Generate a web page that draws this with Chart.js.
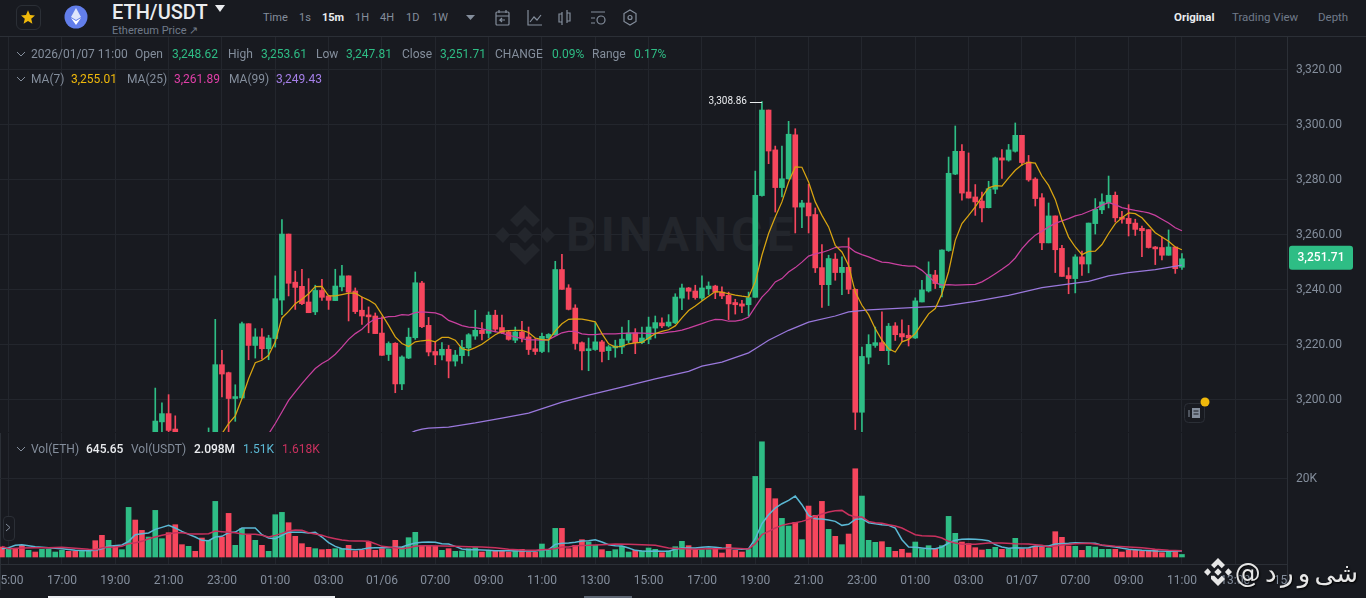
<!DOCTYPE html>
<html>
<head>
<meta charset="utf-8">
<title>ETH/USDT</title>
<script src="https://cdn.jsdelivr.net/npm/chart.js@4/dist/chart.umd.js"></script>
<style>
html, body { margin: 0; padding: 0; width: 1366px; height: 598px; overflow: hidden; background: #181a20; font-family: Roboto, sans-serif; color: #848e9c; }
#priceChart, #volChart { position: absolute; left: 0; }
#priceChart { top: 37px; }
#volChart { top: 433px; }
.t { position: absolute; white-space: nowrap; font-size: 12px; line-height: 14px; }
.line { position: absolute; background: #2b2f36; }
svg { position: absolute; }
</style>
</head>
<body>
<div class="line" style="left:0;top:36px;width:1366px;height:1px"></div>
<div class="line" style="left:0;top:433px;width:1px;height:157px"></div>

<!-- watermark sits behind the canvases -->
<svg style="left:495px;top:205px" width="60" height="60" viewBox="0 0 60 60" fill="#23262c">
  <path d="M30 0 45 15 38 22 30 14 22 22 15 15Z M8 22 15 30 8 38 0 30Z M52 22 60 30 52 38 45 30Z M30 22 38 30 30 38 22 30Z M15 38 22 38 30 46 38 38 45 45 30 60 15 45Z"/>
</svg>
<div class="t" style="left:566px;top:211px;font-size:48px;line-height:48px;font-weight:700;color:#23262c;letter-spacing:4px">BINANCE</div>

<canvas id="priceChart" width="1366" height="395"></canvas>
<canvas id="volChart" width="1366" height="165"></canvas>

<!-- header -->
<div style="position:absolute;left:16px;top:5px;width:23px;height:23px;border:1px solid #2b2f36;border-radius:6px"></div>
<svg style="left:20px;top:9px" width="16" height="16" viewBox="0 0 24 24"><path fill="#f0b90b" d="M12 2l3 7 7.5.6-5.7 4.9 1.8 7.5L12 18l-6.6 4 1.8-7.5L1.5 9.600 9 9z"/></svg>
<svg style="left:64px;top:5px" width="24" height="24" viewBox="0 0 24 24"><circle cx="12" cy="12" r="11.500" fill="#627eea"/><path fill="#dfe5fb" d="M12 3l5 9-5 3-5-3z"/><path fill="#fff" d="M12 16l5-3-5 7-5-7z"/></svg>
<svg style="left:215px;top:5px" width="10" height="7" viewBox="0 0 10 7"><path fill="#eaecef" d="M0 0h10L5 7z"/></svg>
<svg style="left:466px;top:15px" width="9" height="5" viewBox="0 0 9 5"><path fill="#848e9c" d="M0 0h9L4.500 5z"/></svg>
<svg style="left:495px;top:9px" width="150" height="18" fill="none" stroke="#848e9c" stroke-width="1.200">
  <rect x="1" y="3" width="13" height="13" rx="1"/><path d="M1 7h13M4 1v3M11 1v3M10 11H5l2-2M5 11l2 2"/>
  <path d="M33 1v15h14M35 13l4-5 3 3 4-5"/>
  <path d="M67 3v13M67 5h-3v8h3M72 1v13M72 4h3v8h-3"/>
  <path d="M96 3h14M96 9h4M96 14h4"/><circle cx="106" cy="11" r="4"/>
  <path d="M135 1l6 3.500v8L135 16l-6-3.500v-8z"/><circle cx="135" cy="8.500" r="2"/>
</svg>
<svg style="left:1184px;top:403px" width="22" height="20" fill="none" stroke="#848e9c"><rect x="0.500" y="0.500" width="20" height="19" rx="4" stroke="#2b2f36"/><rect x="8" y="5" width="8" height="10" fill="#848e9c" stroke="none"/><path d="M5 7v7"/><path d="M9.500 8h5M9.500 11h5" stroke="#181a20"/></svg>
<svg style="left:1200px;top:397px" width="10" height="10"><circle cx="5" cy="5" r="4.500" fill="#f0b90b"/></svg>
<div style="position:absolute;left:3px;top:516px;width:10px;height:23px;border:1px solid #2b2f36;border-radius:4px;background:#181a20"></div>
<svg style="left:5px;top:523px" width="7" height="9" fill="none" stroke="#848e9c"><path d="M1 1l4 3.500L1 8"/></svg>

<!-- row chevrons -->
<svg style="left:16px;top:51px" width="10" height="6" fill="none" stroke="#848e9c"><path d="M1 1l4 4 4-4"/></svg>
<svg style="left:16px;top:76px" width="10" height="6" fill="none" stroke="#848e9c"><path d="M1 1l4 4 4-4"/></svg>
<svg style="left:16px;top:446px" width="10" height="6" fill="none" stroke="#848e9c"><path d="M1 1l4 4 4-4"/></svg>

<div style="position:absolute;left:48px;top:596px;width:287px;height:2px;background:#eaecef"></div>
<div style="position:absolute;left:584px;top:596px;width:48px;height:2px;background:#5e6673"></div>
<div class="line" style="left:1287px;top:564px;width:1px;height:21px"></div>

<!-- bottom right credit -->
<svg style="left:1204px;top:558px" width="28" height="28" viewBox="0 0 60 60" fill="#e6e6e6">
  <path d="M30 0 45 15 38 22 30 14 22 22 15 15Z M8 22 15 30 8 38 0 30Z M52 22 60 30 52 38 45 30Z M30 22 38 30 30 38 22 30Z M15 38 22 38 30 46 38 38 45 45 30 60 15 45Z"/>
</svg>
<div class="t" dir="rtl" style="right:8px;top:556px;font-family:'DejaVu Sans';font-size:26px;line-height:34px;word-spacing:-4px;color:#e6e6e6;text-shadow:1px 1px 2px #000">شی و ر د @</div>

<script>
// 15m candles, oldest first. The first ones sit below the visible price range.
const opens = [3176,3175,3177,3176,3174,3175,3174,3175,3176,3176.5,3177.5,3176.5,3176,3177,3177.5,3175.5,3173,3175,3174,3175,3182,3178,3175,
  3179,3192.4,3195.4,3189.8,3186,3183,3185,3184,3180,3185,
  3213.2,3210.3,3200.9,3201.1,3228.1,3220.2,3223.3,3219.0,3222.7,3236.7,3260.7,3243.2,3241.7,3236.0,3232.4,3240.2,3238.2,3236.5,3241.5,3245.5,3240.0,3233.0,3231.3,3230.9,3224.7,3216.9,3221.0,3206.2,3215.6,3223.0,3242.9,
  3227.5,3218.0,3216.7,3218.8,3214.5,3216.5,3219.3,3223.6,3225.7,3224.6,3231.2,3226.7,3225.1,3222.1,3225.1,3223.3,3219.0,3218.0,3222.9,3224.0,3247.8,3241.1,3233.8,3221.2,3218.3,3218.7,3221.5,3218.3,3219.3,3219.6,3222.1,3224.7,3221.2,3222.4,3226.5,3228.4,3227.3,3228.4,3237.4,3241.1,3240.0,3237.4,3240.8,3241.8,
  3239.6,3238.4,3235.8,3235.3,3235.0,3237.7,3274.7,3305.8,3291.3,3277.6,3280.8,3296.8,3270.5,3272.0,3267.8,3248.5,3242.3,3251.6,3246.7,3248.6,3240.6,3195.9,3215.9,3220.2,3221.2,3218.3,3227.3,3224.5,3223.9,3222.9,3236.0,3240.0,3245.8,3241.2,
  3254.7,3282.5,3290.8,3276.0,3274.2,3272.7,3270.3,3277.0,3288.4,3287.6,3290.8,3296.6,3286.9,3280.7,3273.9,3257.5,3267.3,3255.5,3245.6,3244.5,3252.4,3249.8,3264.5,3269.5,3272.1,3274.8,3266.8,3266.4,3264.7,3262.8,3262.3,3256.0,3255.8,3253.0,3256.0,3248.62]
const highs = [3177,3178,3178,3177,3176,3176,3176,3177,3177,3178,3178,3177,3177.5,3178,3178,3176,3176,3176,3176,3184,3183,3179,3180,
  3204.7,3199.3,3202.3,3194.6,3186.5,3186,3186,3185,3190.2,3229.7,
  3218.4,3210.5,3205.9,3228.7,3228.1,3226.3,3226.3,3223.9,3245.5,3266,3260.7,3247.2,3247.9,3244.5,3242.1,3244.2,3238.4,3247.9,3249.3,3245.5,3241.1,3237.8,3234.2,3232.0,3230.6,3221.5,3221.2,3216.4,3226.5,3246.9,3243.5,
  3230.4,3221.5,3221.2,3220.2,3218.4,3222.1,3224.5,3233.0,3228.5,3232.4,3233.0,3231.2,3225.7,3226.9,3229.0,3226.9,3222.7,3224.7,3224.5,3250.8,3253.3,3242.3,3235.0,3221.5,3222.9,3228.5,3222.1,3220.2,3222.1,3226.9,3229.3,3226.3,3226.9,3230.5,3230.9,3230.2,3231.4,3239.0,3242.5,3241.3,3242.1,3245.5,3243.3,3242.1,
  3241.5,3239.6,3237.0,3236.6,3239.6,3283.6,3308.86,3305.8,3292.7,3292.7,3301.7,3299.0,3273.0,3278.8,3270.2,3256.9,3253.0,3253.6,3252.4,3259.3,3240.8,3219.6,3224.1,3226.9,3232.4,3228.2,3228.5,3229.5,3227.5,3237.5,3243.9,3250.6,3247.5,3255.0,
  3288.7,3300.0,3293.2,3290.2,3278.7,3276.0,3279.9,3288.7,3291.4,3293.3,3301.1,3296.6,3289.3,3281.2,3275.4,3272.0,3267.3,3256.6,3248.5,3253.2,3254.5,3264.7,3273.6,3275.3,3281.8,3276.0,3269.0,3271.4,3266.1,3263.6,3262.3,3256.2,3259.6,3262.2,3256.0,3253.61]
const lows = [3174,3174,3175,3173,3173,3173,3173,3174,3175,3176,3176,3175,3175.5,3176,3175,3172,3172.5,3173,3173.5,3174,3177,3174,3174,
  3178,3186,3186,3183,3182,3182,3183,3179,3179,3184,
  3201.5,3185,3192.6,3200.9,3215.0,3215.6,3215.2,3215.0,3219.6,3231.4,3238.2,3233.3,3235.0,3232.1,3231.4,3236.6,3233.3,3236.5,3240.0,3229.1,3231.8,3227.8,3224.8,3224.5,3216.6,3214.7,3203.0,3204.1,3215.4,3222.4,3226.7,
  3216.4,3213.2,3214.9,3208.4,3212.7,3213.7,3216.4,3222.4,3222.2,3222.9,3225.1,3224.5,3222.1,3221.2,3221.5,3216.9,3216.9,3217.6,3217.8,3223.9,3240.6,3233.1,3218.8,3211.3,3211.0,3218.4,3214.2,3215.0,3215.9,3217.2,3221.2,3217.2,3220.8,3220.8,3222.9,3226.7,3226.9,3228.1,3233.2,3237.0,3237.0,3236.6,3238.7,3237.2,
  3237.2,3229.6,3231.6,3232.1,3230.9,3237.7,3274.5,3286.3,3268.7,3274.2,3280.6,3261.1,3263.0,3261.1,3246.7,3234.0,3234.7,3243.9,3238.7,3239.0,3189.6,3188.1,3213.5,3219.5,3218.3,3213.2,3222.0,3221.7,3220.0,3222.7,3236.0,3239.6,3240.9,3237.8,
  3254.4,3282.3,3273.0,3273.8,3267.5,3265.1,3270.2,3275.4,3280.9,3287.2,3290.5,3285.7,3279.9,3270.9,3255.0,3257.5,3246.7,3245.3,3239.0,3239.3,3245.7,3246.6,3260.7,3268.1,3270.2,3265.1,3264.7,3260.0,3260.2,3252.5,3255.6,3249.6,3251.3,3253.0,3246.4,3247.81]
const closes = [3175,3177,3176,3174,3175,3174,3175,3176,3176.5,3177.5,3176.5,3176,3177,3177.5,3175.5,3173,3175,3174,3175,3182,3178,3175,3179,
  3192.7,3195.4,3189.3,3186,3183,3185,3184,3180,3185,3213.2,
  3209.8,3200.9,3201.6,3228.1,3220.2,3223.3,3219.0,3222.9,3237.2,3260.7,3242.8,3241.3,3235.4,3232.1,3240.2,3237.7,3236.6,3241.8,3245.5,3239.6,3232.5,3230.9,3230.6,3224.5,3216.6,3220.9,3206.2,3216.0,3223.2,3243.0,3227.0,
  3217.8,3216.7,3218.8,3214.5,3216.7,3219.5,3224.1,3225.7,3224.5,3231.2,3226.1,3224.8,3222.4,3225.1,3222.9,3218.7,3218.0,3223.5,3224.2,3247.8,3240.6,3233.3,3220.9,3218.2,3219.0,3221.5,3218.0,3219.7,3220.0,3222.5,3224.7,3221.2,3222.9,3226.9,3228.5,3227.3,3228.7,3237.8,3241.1,3239.9,3237.6,3241.1,3241.8,3239.6,
  3238.2,3235.3,3235.0,3234.5,3237.6,3274.8,3305.8,3290.9,3277.6,3280.8,3297.0,3270.5,3272.0,3267.3,3248.4,3242.3,3251.8,3246.7,3248.6,3240.6,3195.9,3216.2,3220.6,3221.2,3218.3,3227.2,3224.1,3223.3,3222.9,3236.4,3240.4,3246.0,3242.7,3254.9,
  3282.8,3290.8,3275.6,3273.8,3272.4,3270.2,3277.2,3288.4,3287.6,3291.3,3296.6,3286.7,3280.4,3273.6,3257.5,3267.3,3255.0,3245.3,3244.5,3252.4,3249.8,3264.7,3269.7,3272.4,3274.8,3266.6,3266.1,3264.5,3262.4,3261.9,3255.8,3255.3,3253.0,3256.0,3248.1,3251.71]

const volumes = [2550,2125,2125,2975,1700,1275,1955,1955,1275,1700,1445,1445,1445,1445,4165,5525,4250,2720,1870,12665,9435,6800,5100,11900,4675,6205,8245,3145,2720,1445,4845,4250,14195,5100,11135,2975,7225,5780,4250,2975,1445,10795,11390,8755,5270,3400,2465,2125,1870,1955,2125,2125,2975,1530,1700,3825,1700,2125,1955,4250,
  2550,4930,6290,2975,2975,2720,1700,2125,1445,1530,2125,2380,1275,1700,1530,1445,1275,1530,1955,1275,1275,3315,1700,7310,7310,2125,2975,4420,3825,2975,1870,1445,1870,2720,1275,1700,1530,2295,1955,1105,1530,2635,3995,2890,1870,1870,1870,2125,1020,3230,1700,1275,2125,
  20570,29410,17510,14875,9860,7905,8840,4420,13005,10625,14195,7055,5270,3145,5865,22525,15555,4250,3740,3910,2465,1445,1955,1020,3825,2125,2890,2125,2890,10370,6035,3825,3400,2380,1785,1955,2465,1955,2125,4760,2125,2125,2720,2550,2295,6460,5015,2805,2720,1700,2720,2550,1955,1955,1955,1275,1700,1700,1530,1615,1870,1105,1615,1530,645.65]

// moving averages, first value at candle number maStart
const ma7Start = 32
const ma7 = [3185.1,3188.1,3191.8,3194.6,3200.9,3208.1,3213.9,3214.8,3216.6,3221.5,3230.2,3232.6,3235.4,3237.0,3239.0,3241.6,3241.7,3238.2,3238.2,3238.7,3239.2,3239.2,3237.8,3236.7,3235.2,3231.4,3227.5,3223.3,3220.9,3219.8,3221.5,3221.9,
  3222.1,3221.5,3223.1,3223.1,3222.1,3219.0,3218.4,3219.4,3220.6,3222.4,3224.1,3225.3,3225.6,3225.7,3225.7,3224.9,3222.9,3222.3,3222.1,3225.5,3228.1,3229.7,3229.9,3229.8,3229.3,3228.8,3224.5,3220.8,3219.6,3219.9,3220.8,3221.1,3221.3,3222.9,3224.5,3225.3,3225.9,3227.3,3230.2,3232.9,3234.5,3236.4,3238.1,3239.8,
  3239.6,3239.0,3238.5,3238.1,3237.8,3243.3,3253.0,3260.9,3266.9,3272.4,3279.6,3285.1,3285.0,3279.6,3272.4,3267.5,3263.3,3256.6,3254.2,3249.3,3239.6,3234.8,3231.4,3226.3,3222.1,3219.0,3217.8,3221.5,3222.4,3224.5,3228.1,3231.7,3233.6,3239.0,3247,
  3258.4,3264.5,3267.5,3270.6,3274.2,3277.5,3278.3,3278.1,3281.1,3283.9,3285.9,3286.8,3286.5,3281.8,3278.4,3273.3,3265.7,3259.6,3256.0,3253.2,3254.4,3254.5,3256.9,3260.9,3264.5,3266.6,3268.4,3268.1,3266.6,3263.9,3261.2,3259.6,3258.1,3256.0,3255.01]

const ma25Start = 39
const ma25 = [3185,3188.0,3191.8,3196.0,3200.2,3203.3,3206.3,3209.1,3211.8,3213.6,3215.0,3217.0,3219.6,3222.4,3224.5,3226.1,3228.4,3229.9,3230.1,3230.7,3230.8,3231.4,3231.2,3232.1,3232.4,
  3232.2,3232.0,3231.2,3229.3,3228.4,3227.4,3226.9,3226.7,3226.2,3225.7,3225.2,3224.7,3223.9,3223.3,3222.7,3222.2,3222.2,3222.1,3222.3,3223.6,3224.8,3225.3,3225.3,3224.4,3224.1,3224.1,3224.4,3224.4,3224.4,3224.6,3224.7,3224.8,3224.7,3224.6,3224.6,3224.6,3225.0,3225.3,3225.8,3226.5,3227.3,3228.1,3229.0,3229.7,
  3229.6,3229.0,3229.0,3229.5,3230.5,3234.2,3237.8,3240.2,3243.3,3244.5,3246.9,3248.5,3250.5,3252.7,3253.5,3254.0,3254.8,3255.8,3256.0,3256.0,3254.2,3253.2,3252.4,3251.4,3250.5,3250.3,3249.8,3249.3,3249.0,3249.0,3247.5,3245.3,3243.0,3242.1,3242.3,
  3242.1,3242.2,3242.3,3242.4,3243.3,3244.7,3246.3,3247.9,3249.6,3252.0,3255.4,3258.1,3260.3,3261.7,3263.3,3264.6,3265.5,3266.3,3267.3,3267.9,3268.9,3269.9,3271.2,3272.1,3271.4,3270.3,3269.8,3269.3,3268.9,3268.4,3267.5,3266.1,3264.7,3263.0,3261.89]

// MA(99) is nearly straight, so it is read at fewer candles
const ma99Candles = [60,61,62,63,64,67,71,75,79,84,88,93,98,103,105,108,112,113,115,118,121,125,127,130,135,140,141,146,151,156,161,163,166,169,173,177]
const ma99 = [3186,3188,3189.1,3189.8,3190.1,3190.5,3192,3193.8,3195.6,3199.6,3202.1,3205,3208,3210.8,3212.7,3214.1,3217.5,3219.0,3222.1,3225.7,3228.7,3230.9,3232.4,3233.1,3233.8,3234.4,3234.4,3236.2,3238.4,3241.2,3242.9,3243.5,3245.5,3246.7,3247.8,3249.43]

const volMa7 = [2125,2380,2975,3145,null,2635,null,2380,null,2125,null,1700,null,1615,1700,2125,2720,null,3060,3995,5695,5950,6120,7055,7565,8075,7395,6545,5780,5100,4250,4165,5100,5270,6205,6375,7395,7395,7395,5695,4845,4675,5525,6375,6290,6290,6120,6290,5100,3655,2720,2125,1955,1870,1955,2295,2380,2380,2380,2465,
  2550,3145,3570,3740,3825,3740,3400,3315,2720,2040,1870,1870,1785,1700,1615,null,1615,null,1530,null,1530,1785,1870,3230,3485,3570,3740,4080,4165,4420,3825,3145,2890,2805,2295,1700,1530,1445,1530,1445,1445,1955,2295,2295,2295,2465,2635,2465,2295,2210,2125,1955,2125,
  4675,8500,10795,12495,13600,14450,15555,13345,10625,9775,9690,9435,9095,8075,8330,9605,9775,8755,8500,8245,8075,7395,4420,2550,2465,2295,2125,2125,2550,3570,4250,4505,4590,4505,4420,4165,3145,2550,2210,2380,2295,2380,2805,null,2805,3315,null,3485,3655,null,3485,3485,2975,null,2550,null,1955,null,1700,null,1530,null,1445,null,1510]
const volMa25 = [2720,2125,null,2295,null,2380,null,2380,null,2465,null,2210,null,1955,1870,2380,2465,2550,2720,3400,3655,3995,4675,5100,5525,5865,6205,6205,5950,5865,5865,5950,6630,6460,6290,6205,5865,5780,5780,5525,5100,5525,6035,6630,6885,6800,6205,5865,5525,5015,4675,4335,4165,4080,4080,3995,3400,2720,2550,2380,
  2125,2380,2720,2890,2890,null,2805,null,2720,null,2635,null,2550,null,2380,null,1955,null,1785,null,1700,null,1955,2125,2550,2550,2890,null,2975,null,3145,null,3315,null,3230,null,3145,null,2975,null,2295,null,2125,null,1955,null,2125,null,2125,null,2210,null,2040,
  3400,5695,6545,7395,8075,8500,8755,9095,9605,10370,10965,11475,11815,11900,10795,10200,10200,9095,8755,8585,8245,7905,7395,6545,5695,5440,5355,5270,4845,3995,3570,3230,null,3230,null,3570,null,3570,null,3400,null,3315,3145,2975,2550,null,3060,null,3400,null,3485,null,3060,null,2720,null,2550,null,2380,null,1955,null,1700,null,1618]

const priceTicks = [3200,3220,3240,3260,3280,3300,3320]
const volTicks = [20000]
const timeLabels = ['15:00','17:00','19:00','21:00','23:00','01:00','03:00','01/06','07:00','09:00','11:00','13:00','15:00','17:00','19:00','21:00','23:00','01:00','03:00','01/07','07:00','09:00','11:00','13:00','15:00']

const ohlcNames = ['Open','High','Low','Close']
const ohlcValues = ['3,248.62','3,253.61','3,247.81','3,251.71']

const GREEN = '#2ebd85'
const RED = '#f6465d'
const GRID = '#23262d'
const AXIS = '#2b2f36'
const TEXT = '#848e9c'
const MUTED = '#707a8a'

// prices were read against the tick label centres, which sit 1px above their gridlines
const READ_BIAS = 0.36
const onAxis = v => v - READ_BIAS

// every 8th candle gets a time label
const tickCandles = timeLabels.map((_, k) => 1 + k * 8)
const candleColors = closes.map((c, i) => c >= opens[i] ? GREEN : RED)

const xScale = showTicks => ({
    type: 'linear',
    offset: false,
    min: -0.29,
    max: 192.76,
    afterBuildTicks: scale => {
        scale.ticks = tickCandles.map(value => ({ value }))
    },
    afterFit: scale => {
        scale.paddingLeft = 0
        scale.paddingRight = 0
        if (showTicks) scale.height = 34
    },
    grid: {
        offset: false,
        drawTicks: false,
        color: ctx => ctx.tick && ctx.tick.value > 192.76 ? 'transparent' : GRID
    },
    border: { color: AXIS },
    ticks: {
        display: showTicks,
        autoSkip: false,
        maxRotation: 0,
        padding: 10,
        color: TEXT,
        font: { family: 'Roboto', size: 12 },
        callback: value => timeLabels[(value - 1) / 8]
    }
})

const yScale = (min, max, list, format) => ({
    position: 'right',
    min,
    max,
    afterBuildTicks: scale => {
        scale.ticks = list.map(value => ({ value }))
    },
    afterFit: scale => {
        scale.width = 79
        scale.paddingTop = 0
        scale.paddingBottom = 0
    },
    grid: { drawTicks: false, color: GRID },
    border: { color: AXIS },
    ticks: {
        padding: 9,
        color: TEXT,
        font: { family: 'Roboto', size: 12 },
        callback: format
    }
})

const lineSet = (label, xs, ys, color, width, order) => ({
    type: 'line',
    label,
    data: ys.map((y, i) => ({ x: xs(i), y })),
    borderColor: color,
    borderWidth: width,
    pointRadius: 0,
    spanGaps: true,
    order
})

// highest wick label and the last price tag, placed by the price scale
const priceMarks = {
    id: 'priceMarks',
    afterDraw: chart => {
        const { ctx, scales: { x, y } } = chart
        const top = highs.indexOf(Math.max(...highs))
        const hx = x.getPixelForValue(top)
        const hy = y.getPixelForValue(onAxis(highs[top]))
        ctx.save()
        ctx.strokeStyle = '#eaecef'
        ctx.beginPath()
        ctx.moveTo(hx - 12, Math.round(hy) + 0.5)
        ctx.lineTo(hx, Math.round(hy) + 0.5)
        ctx.stroke()
        ctx.fillStyle = '#eaecef'
        ctx.font = '10px Roboto'
        ctx.textAlign = 'right'
        ctx.textBaseline = 'middle'
        ctx.fillText(highs[top].toLocaleString('en-US', { minimumFractionDigits: 2 }), hx - 15, hy)

        const last = closes[closes.length - 1]
        const ly = y.getPixelForValue(last)
        ctx.fillStyle = GREEN
        ctx.beginPath()
        ctx.roundRect(1289, ly - 12, 64, 24, 3)
        ctx.fill()
        ctx.fillStyle = '#fff'
        ctx.font = '500 12px Roboto'
        ctx.textAlign = 'center'
        ctx.fillText(last.toLocaleString('en-US', { minimumFractionDigits: 2 }), 1321, ly)
        ctx.restore()
    }
}

// cuts the last time label off at the price axis
const axisCorner = {
    id: 'axisCorner',
    beforeDatasetsDraw: chart => {
        const { ctx, chartArea, width, height } = chart
        ctx.save()
        ctx.fillStyle = '#181a20'
        ctx.fillRect(chartArea.right + 1, chartArea.bottom + 1, width, height)
        ctx.restore()
    }
}

const common = {
    responsive: false,
    animation: false,
    events: [],
    layout: { padding: 0 },
    plugins: { legend: { display: false }, tooltip: { enabled: false } }
}

new Chart(document.getElementById('priceChart').getContext('2d'), {
    type: 'bar',
    data: {
        datasets: [
            {
                label: 'Wick',
                data: highs.map((h, i) => ({ x: i, y: [onAxis(lows[i]), onAxis(h)] })),
                backgroundColor: candleColors,
                barThickness: 1,
                grouped: false,
                order: 5
            },
            {
                label: 'Candle',
                data: opens.map((o, i) => ({ x: i, y: [onAxis(o), onAxis(closes[i])] })),
                backgroundColor: candleColors,
                barThickness: 5,
                grouped: false,
                order: 4
            },
            lineSet('MA(99)', i => ma99Candles[i], ma99.map(onAxis), '#9a78dc', 1.25, 3),
            lineSet('MA(25)', i => i + ma25Start, ma25.map(onAxis), '#c9409f', 1.25, 2),
            lineSet('MA(7)', i => i + ma7Start, ma7.map(onAxis), '#d9a511', 1.25, 1)
        ]
    },
    options: {
        ...common,
        scales: {
            x: xScale(false),
            y: yScale(3188.36, 3332, priceTicks, v => v.toLocaleString('en-US', { minimumFractionDigits: 2 }))
        }
    },
    plugins: [priceMarks]
})

new Chart(document.getElementById('volChart').getContext('2d'), {
    type: 'bar',
    data: {
        datasets: [
            {
                label: 'Vol(ETH)',
                data: volumes.map((v, i) => ({ x: i, y: v })),
                backgroundColor: candleColors,
                barThickness: 5,
                grouped: false,
                order: 3
            },
            lineSet('MA vol short', i => i, volMa7, '#5bb8d4', 1.5, 2),
            lineSet('MA vol long', i => i, volMa25, '#c9315e', 1.5, 1)
        ]
    },
    options: {
        ...common,
        scales: {
            x: xScale(true),
            y: yScale(-1787, 31650, volTicks, v => (v / 1000) + 'K')
        }
    },
    plugins: [axisCorner]
})

// header and legend text, x and y of each label
const labels = [
    [112, 1, 'ETH/USDT', '#eaecef', 20, 500],
    [112, 24, 'Ethereum Price ↗', MUTED, 11, 400],
    [263, 11, 'Time', TEXT, 11, 400],
    [299, 11, '1s', TEXT, 11, 400],
    [322, 11, '15m', '#eaecef', 11, 700],
    [355, 11, '1H', TEXT, 11, 400],
    [380, 11, '4H', TEXT, 11, 400],
    [406, 11, '1D', TEXT, 11, 400],
    [432, 11, '1W', TEXT, 11, 400],
    [1174, 11, 'Original', '#eaecef', 11.5, 700],
    [1232, 11, 'Trading View', MUTED, 11.5, 400],
    [1318, 11, 'Depth', MUTED, 11.5, 400],
    [31, 47, '2026/01/07 11:00', TEXT],
    [135, 47, ohlcNames[0], TEXT], [172, 47, ohlcValues[0], GREEN],
    [228, 47, ohlcNames[1], TEXT], [261, 47, ohlcValues[1], GREEN],
    [316, 47, ohlcNames[2], TEXT], [346, 47, ohlcValues[2], GREEN],
    [402, 47, ohlcNames[3], TEXT], [440, 47, ohlcValues[3], GREEN],
    [495, 47, 'CHANGE', TEXT], [552, 47, '0.09%', GREEN],
    [592, 47, 'Range', TEXT], [634, 47, '0.17%', GREEN],
    [31, 72, 'MA(7)', TEXT], [71, 72, '3,255.01', '#f0b90b'],
    [127, 72, 'MA(25)', TEXT], [174, 72, '3,261.89', '#e13fa8'],
    [229, 72, 'MA(99)', TEXT], [276, 72, '3,249.43', '#a57fe8'],
    [31, 442, 'Vol(ETH)', TEXT], [86, 442, '645.65', '#eaecef', 12, 500],
    [131, 442, 'Vol(USDT)', TEXT], [194, 442, '2.098M', '#eaecef', 12, 500],
    [243, 442, '1.51K', '#5bb8d4'], [282, 442, '1.618K', '#c9315e']
]
labels.forEach(([left, top, text, color, size, weight]) => {
    const el = document.createElement('div')
    el.className = 't'
    el.textContent = text
    el.style.cssText = `left:${left}px;top:${top}px;color:${color};font-size:${size || 12}px;font-weight:${weight || 400};line-height:${(size || 12) + 2}px`
    document.body.appendChild(el)
})
</script>
</body>
</html>
